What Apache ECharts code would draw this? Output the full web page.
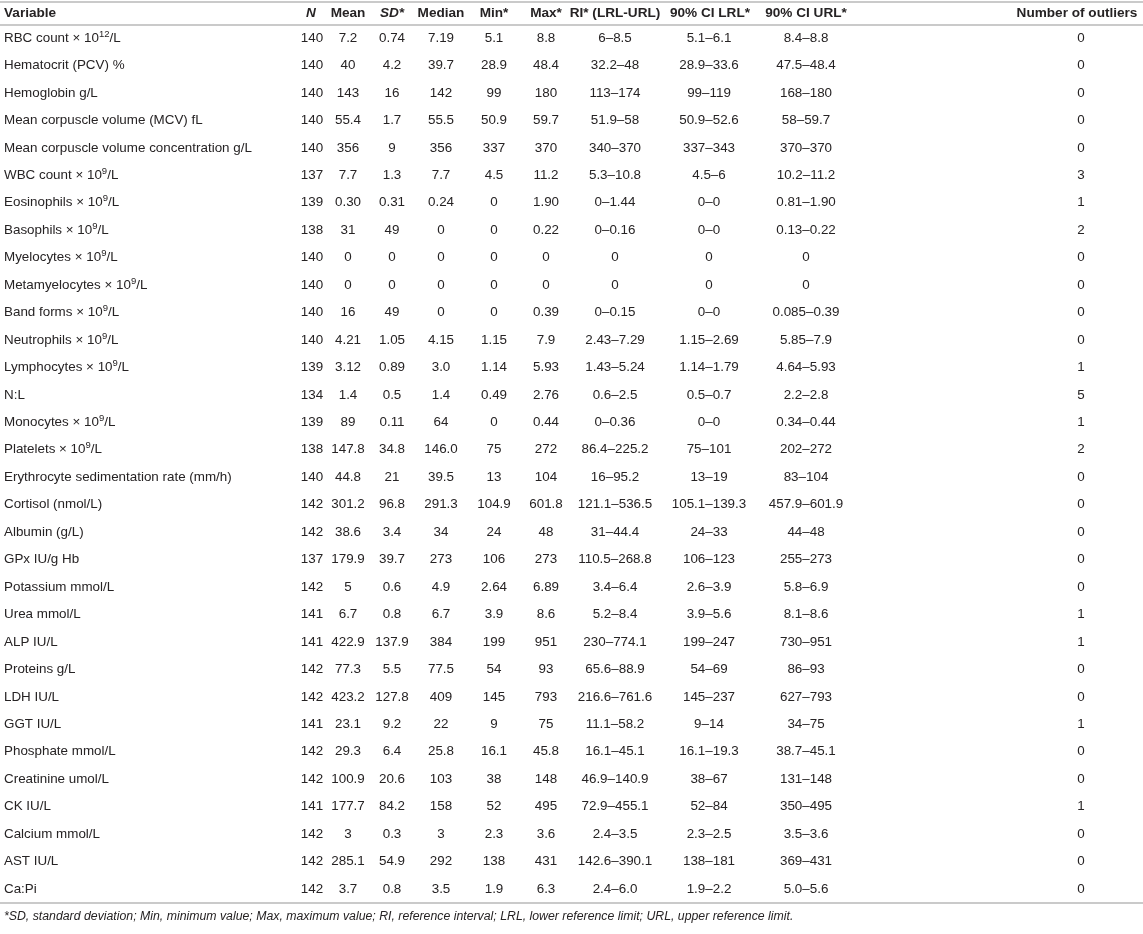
<!DOCTYPE html>
<html>
<head>
<meta charset="utf-8">
<script src="https://cdn.jsdelivr.net/npm/echarts@6/dist/echarts.min.js"></script>
<style>html,body{margin:0;padding:0;background:#fff;}#c{width:1143px;height:934px;}</style>
</head>
<body>
<div id="c"></div>
<script>
const headers = ['Variable','N','Mean','SD*','Median','Min*','Max*','RI* (LRL-URL)','90% CI LRL*','90% CI URL*','Number of outliers'];
const variables = ['RBC count × 10^12/L','Hematocrit (PCV) %','Hemoglobin g/L','Mean corpuscle volume (MCV) fL','Mean corpuscle volume concentration g/L','WBC count × 10^9/L','Eosinophils × 10^9/L','Basophils × 10^9/L','Myelocytes × 10^9/L','Metamyelocytes × 10^9/L','Band forms × 10^9/L','Neutrophils × 10^9/L','Lymphocytes × 10^9/L','N:L','Monocytes × 10^9/L','Platelets × 10^9/L','Erythrocyte sedimentation rate (mm/h)','Cortisol (nmol/L)','Albumin (g/L)','GPx IU/g Hb','Potassium mmol/L','Urea mmol/L','ALP IU/L','Proteins g/L','LDH IU/L','GGT IU/L','Phosphate mmol/L','Creatinine umol/L','CK IU/L','Calcium mmol/L','AST IU/L','Ca:Pi'];
const nVals = ['140','140','140','140','140','137','139','138','140','140','140','140','139','134','139','138','140','142','142','137','142','141','141','142','142','141','142','142','141','142','142','142'];
const means = ['7.2','40','143','55.4','356','7.7','0.30','31','0','0','16','4.21','3.12','1.4','89','147.8','44.8','301.2','38.6','179.9','5','6.7','422.9','77.3','423.2','23.1','29.3','100.9','177.7','3','285.1','3.7'];
const sds = ['0.74','4.2','16','1.7','9','1.3','0.31','49','0','0','49','1.05','0.89','0.5','0.11','34.8','21','96.8','3.4','39.7','0.6','0.8','137.9','5.5','127.8','9.2','6.4','20.6','84.2','0.3','54.9','0.8'];
const medians = ['7.19','39.7','142','55.5','356','7.7','0.24','0','0','0','0','4.15','3.0','1.4','64','146.0','39.5','291.3','34','273','4.9','6.7','384','77.5','409','22','25.8','103','158','3','292','3.5'];
const mins = ['5.1','28.9','99','50.9','337','4.5','0','0','0','0','0','1.15','1.14','0.49','0','75','13','104.9','24','106','2.64','3.9','199','54','145','9','16.1','38','52','2.3','138','1.9'];
const maxs = ['8.8','48.4','180','59.7','370','11.2','1.90','0.22','0','0','0.39','7.9','5.93','2.76','0.44','272','104','601.8','48','273','6.89','8.6','951','93','793','75','45.8','148','495','3.6','431','6.3'];
const ris = ['6–8.5','32.2–48','113–174','51.9–58','340–370','5.3–10.8','0–1.44','0–0.16','0','0','0–0.15','2.43–7.29','1.43–5.24','0.6–2.5','0–0.36','86.4–225.2','16–95.2','121.1–536.5','31–44.4','110.5–268.8','3.4–6.4','5.2–8.4','230–774.1','65.6–88.9','216.6–761.6','11.1–58.2','16.1–45.1','46.9–140.9','72.9–455.1','2.4–3.5','142.6–390.1','2.4–6.0'];
const ciLrl = ['5.1–6.1','28.9–33.6','99–119','50.9–52.6','337–343','4.5–6','0–0','0–0','0','0','0–0','1.15–2.69','1.14–1.79','0.5–0.7','0–0','75–101','13–19','105.1–139.3','24–33','106–123','2.6–3.9','3.9–5.6','199–247','54–69','145–237','9–14','16.1–19.3','38–67','52–84','2.3–2.5','138–181','1.9–2.2'];
const ciUrl = ['8.4–8.8','47.5–48.4','168–180','58–59.7','370–370','10.2–11.2','0.81–1.90','0.13–0.22','0','0','0.085–0.39','5.85–7.9','4.64–5.93','2.2–2.8','0.34–0.44','202–272','83–104','457.9–601.9','44–48','255–273','5.8–6.9','8.1–8.6','730–951','86–93','627–793','34–75','38.7–45.1','131–148','350–495','3.5–3.6','369–431','5.0–5.6'];
const outliers = ['0','0','0','0','0','3','1','2','0','0','0','0','1','5','1','2','0','0','0','0','0','1','1','0','0','1','0','0','1','0','0','0'];
const footnote = '*SD, standard deviation; Min, minimum value; Max, maximum value; RI, reference interval; LRL, lower reference limit; URL, upper reference limit.';

// layout (column centres, px)
const colX = [4, 312, 348, 392, 441, 494, 546, 615, 709, 806, 1081];
const headX = [4, 311, 348, 392, 441, 494, 546, 615, 710, 806, 1077];
const FONT = '"Liberation Sans", Arial, Helvetica, sans-serif';
const TXT = '#262324';
const RULE = '#b8b8b8';

const columns = [nVals, means, sds, medians, mins, maxs, ris, ciLrl, ciUrl, outliers];

function richName(s) {
  const m = s.match(/^(.*)\^(\d+)(.*)$/);
  if (!m) return '{a|' + s + '}';
  return '{a|' + m[1] + '}{s|' + m[2] + '}{a|' + m[3] + '}';
}

const chart = echarts.init(document.getElementById('c'));
const gridTop = 24.3, gridH = 878.4;

const headerTexts = headers.map((h, i) => ({
  type: 'text',
  x: headX[i],
  y: 13,
  style: {
    text: h,
    fill: TXT,
    font: ((i === 1 || i === 3) ? 'italic ' : '') + 'bold 13.6px ' + FONT,
    align: i === 0 ? 'left' : 'center',
    verticalAlign: 'middle'
  }
}));

chart.setOption({
  animation: false,
  grid: { left: 0, right: 0, top: gridTop, height: gridH },
  xAxis: [
    { type: 'value', min: 0, max: 1143, position: 'top', axisLine: { show: true, lineStyle: { color: RULE, width: 1.5 } }, axisTick: { show: false }, axisLabel: { show: false }, splitLine: { show: false } },
    { type: 'value', min: 0, max: 1143, position: 'bottom', axisLine: { show: true, onZero: false, lineStyle: { color: RULE, width: 1.5 } }, axisTick: { show: false }, axisLabel: { show: false }, splitLine: { show: false } }
  ],
  yAxis: { type: 'category', inverse: true, data: variables, axisLine: { show: false }, axisTick: { show: false }, axisLabel: { show: false }, splitLine: { show: false } },
  graphic: [
    { type: 'line', shape: { x1: 0, y1: 2, x2: 1143, y2: 2 }, style: { stroke: RULE, lineWidth: 1.5 } },
    ...headerTexts,
    { type: 'text', x: 4, y: 917, style: { text: footnote, fill: TXT, font: 'italic 12.3px ' + FONT, align: 'left', verticalAlign: 'middle' } }
  ],
  series: [{
    type: 'custom',
    xAxisIndex: 0,
    data: variables.map((v, i) => [0, i]),
    encode: { x: 0, y: 1 },
    renderItem: function (params, api) {
      const idx = api.value(1);
      const y = api.coord([0, idx])[1];
      const children = [{
        type: 'text', x: colX[0], y: y,
        style: {
          text: richName(variables[idx]),
          fill: TXT, align: 'left', verticalAlign: 'middle',
          rich: {
            a: { fontSize: 13.4, fontFamily: FONT, fill: TXT },
            s: { fontSize: 9.5, fontFamily: FONT, fill: TXT, padding: [0, 0, 8, 0] }
          }
        }
      }];
      columns.forEach((col, c) => {
        children.push({
          type: 'text', x: colX[c + 1], y: y,
          style: { text: col[idx], fill: TXT, font: '13.4px ' + FONT, align: 'center', verticalAlign: 'middle' }
        });
      });
      return { type: 'group', children: children };
    }
  }]
});
</script>
</body>
</html>
